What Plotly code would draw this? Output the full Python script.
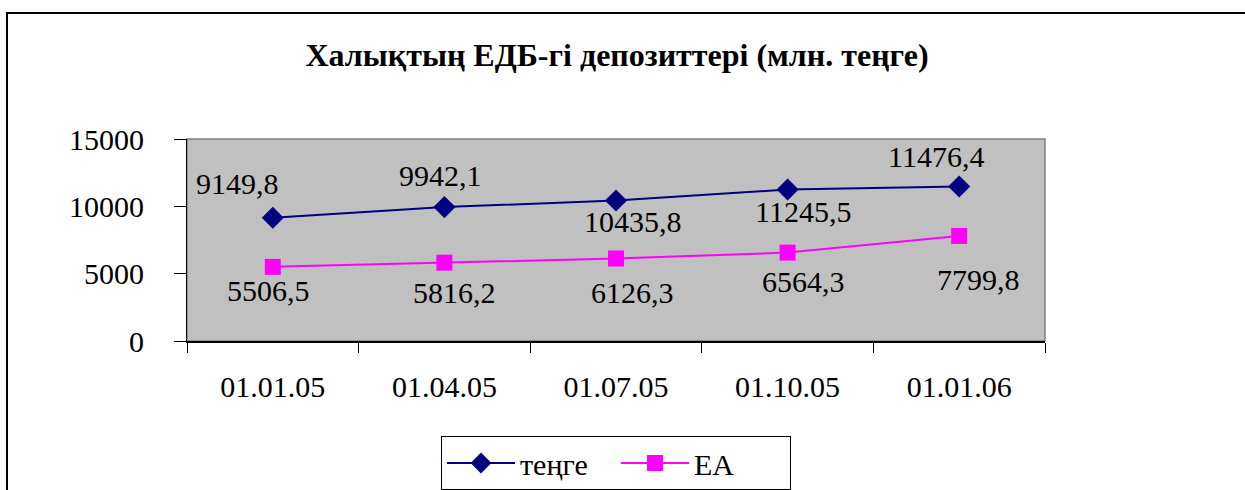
import plotly.graph_objects as go

# ---- data ----
categories = ["01.01.05", "01.04.05", "01.07.05", "01.10.05", "01.01.06"]
tenge = [9149.8, 9942.1, 10435.8, 11245.5, 11476.4]
ea = [5506.5, 5816.2, 6126.3, 6564.3, 7799.8]
series_names = ["теңге", "ЕА"]
title_text = "Халықтың ЕДБ-гі депозиттері (млн. теңге)"
y_ticks = [0, 5000, 10000, 15000]

# label offsets in pixels (dx right, dy down) for data labels
tenge_off = [(-35, -34), (-4, -32), (17, 21), (15, 22), (-23, -30)]
ea_off = [(-4, 24), (10, 30), (16, 34), (16, 29), (19, 44)]

FONT = "Liberation Serif"
NAVY = "#000080"
MAGENTA = "#FF00FF"

W, H = 1245, 490
L, R, T, B = 187, 200, 139, 149
pw = W - L - R
ph = H - T - B

fig = go.Figure()
fig.add_trace(go.Scatter(
    x=categories, y=tenge, name=series_names[0], mode="lines+markers",
    line=dict(color=NAVY, width=2),
    marker=dict(symbol="diamond", size=17, color=NAVY),
))
fig.add_trace(go.Scatter(
    x=categories, y=ea, name=series_names[1], mode="lines+markers",
    line=dict(color=MAGENTA, width=2),
    marker=dict(symbol="square", size=16, color=MAGENTA),
))

def fmt(v):
    return f"{v:.1f}".replace(".", ",")

for vals, offs in ((tenge, tenge_off), (ea, ea_off)):
    for c, v, (dx, dy) in zip(categories, vals, offs):
        fig.add_annotation(
            x=c, y=v, text=fmt(v), showarrow=False,
            xshift=dx, yshift=-dy,
            font=dict(family=FONT, size=30, color="black"),
        )

# outer frame (cut off at right and bottom)
fig.add_shape(
    type="rect", xref="paper", yref="paper",
    x0=(7 - L) / pw, x1=(W + 20 - L) / pw,
    y0=-(H + 20 - (T + ph)) / ph, y1=(T + ph - 13) / ph,
    line=dict(color="black", width=2), fillcolor="rgba(0,0,0,0)",
)
# plot area border
fig.add_shape(
    type="rect", xref="paper", yref="paper", x0=0, x1=1, y0=0, y1=1,
    line=dict(color="#808080", width=1.5), layer="below",
)

fig.update_layout(
    width=W, height=H,
    margin=dict(l=L, r=R, t=T, b=B, autoexpand=False),
    paper_bgcolor="white",
    plot_bgcolor="#C0C0C0",
    font=dict(family=FONT, size=30, color="black"),
    title=dict(
        text=f"<b>{title_text}</b>",
        x=617 / W, xanchor="center",
        y=1 - 55 / H, yanchor="middle",
        font=dict(family=FONT, size=32, color="black"),
    ),
    showlegend=True,
    legend=dict(
        orientation="h",
        x=0.5, xanchor="center",
        yref="container",
        y=1 - 436 / H, yanchor="top",
        bordercolor="black", borderwidth=1, bgcolor="white",
        font=dict(family=FONT, size=30, color="black"),
        itemwidth=68,
        entrywidth=91,
    ),
    xaxis=dict(
        type="category",
        range=[-0.5, len(categories) - 0.5],
        automargin=False,
        showgrid=False, zeroline=False,
        showline=True, linecolor="black", linewidth=1.5,
        ticks="outside", ticklen=10, tickcolor="black",
        tickson="boundaries",
        ticklabelstandoff=18,
        tickfont=dict(family=FONT, size=30, color="black"),
    ),
    yaxis=dict(
        range=[0, 15000],
        tickvals=y_ticks,
        tickformat="d",
        automargin=False,
        showgrid=False, zeroline=False,
        showline=True, linecolor="black", linewidth=1,
        ticks="outside", ticklen=12, tickcolor="black",
        ticklabelstandoff=24,
        tickfont=dict(family=FONT, size=30, color="black"),
    ),
)

fig.write_html(
    "out.html",
    config={"displayModeBar": False},
    post_script="document.body.style.margin='0';document.body.style.padding='0';",
)
